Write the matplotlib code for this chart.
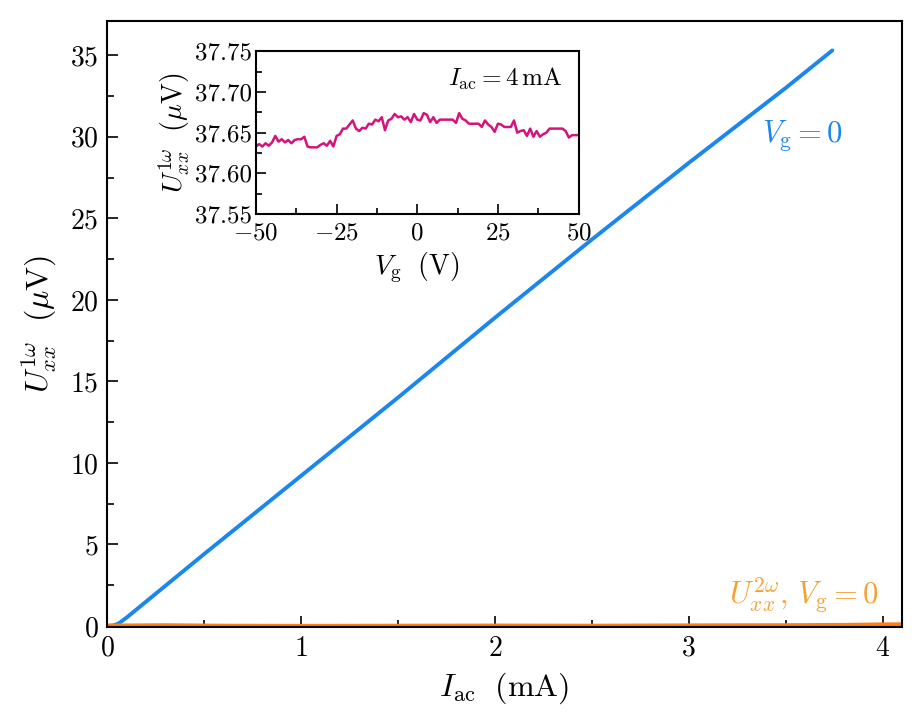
import numpy as np
import matplotlib
matplotlib.use('Agg')
import matplotlib.pyplot as plt
from matplotlib.ticker import MultipleLocator, FormatStrFormatter

plt.rcParams['font.family'] = 'serif'
plt.rcParams['font.serif'] = ['cmr10']
plt.rcParams['mathtext.fontset'] = 'cm'
plt.rcParams['axes.formatter.use_mathtext'] = True

# main panel: U_xx^1w vs I_ac (Vg = 0)
i_1w = [0.0, 0.03, 0.06, 0.1, 0.5, 1.0, 1.5, 2.0, 2.5, 3.0, 3.5, 3.74]
u_1w = [0.0, 0.02, 0.15, 0.5, 4.4, 9.2, 14.0, 18.9, 23.7, 28.4, 33.0, 35.3]

# second harmonic, nearly flat
i_2w = [0.0, 0.3, 0.6, 1.0, 1.5, 2.0, 2.5, 3.0, 3.5, 3.8, 4.0, 4.2]
u_2w = [0.02, 0.04, 0.01, 0.0, 0.01, 0.02, 0.01, 0.03, 0.04, 0.06, 0.09, 0.1]

# inset: U_xx^1w vs Vg at I_ac = 4 mA
vg = list(range(-50, 51))
u_vg = [37.633, 37.636, 37.633, 37.637, 37.634, 37.638, 37.646, 37.639, 37.642, 37.638,
        37.641, 37.637, 37.641, 37.642, 37.642, 37.645, 37.633, 37.632, 37.632, 37.632,
        37.635, 37.637, 37.634, 37.640, 37.633, 37.646, 37.648, 37.655, 37.655, 37.660,
        37.665, 37.655, 37.652, 37.656, 37.655, 37.661, 37.660, 37.666, 37.664, 37.669,
        37.653, 37.665, 37.667, 37.673, 37.669, 37.670, 37.666, 37.669, 37.663, 37.673,
        37.666, 37.665, 37.674, 37.672, 37.663, 37.669, 37.662, 37.666, 37.666, 37.666,
        37.666, 37.666, 37.662, 37.674, 37.667, 37.665, 37.661, 37.661, 37.661, 37.661,
        37.657, 37.665, 37.660, 37.657, 37.651, 37.661, 37.660, 37.657, 37.657, 37.657,
        37.665, 37.650, 37.652, 37.653, 37.646, 37.655, 37.645, 37.652, 37.645, 37.648,
        37.650, 37.655, 37.655, 37.655, 37.655, 37.655, 37.652, 37.644, 37.647, 37.647,
        37.647]

blue = '#1a86ee'
orange = '#ff7f0e'
orange_txt = '#f7a035'
magenta = '#d6127c'

fig = plt.figure(figsize=(9.14, 7.26), dpi=100)
ax = fig.add_axes([0.117, 0.136, 0.870, 0.835])

ax.plot(i_1w, u_1w, color=blue, lw=2.8, solid_capstyle='round')
ax.plot(i_2w, u_2w, color=orange, lw=3.0)

ax.set_xlim(0, 4.1)
ax.set_ylim(-0.08, 37.1)
ax.xaxis.set_major_locator(MultipleLocator(1))
ax.xaxis.set_minor_locator(MultipleLocator(0.5))
ax.yaxis.set_major_locator(MultipleLocator(5))
ax.yaxis.set_minor_locator(MultipleLocator(2.5))
ax.tick_params(which='both', direction='in', top=False, right=False, labelsize=20, width=1.2)
ax.tick_params(which='major', length=8, pad=6)
ax.tick_params(which='minor', length=5)
for s in ax.spines.values():
    s.set_linewidth(1.5)

ax.set_xlabel(r'$I_\mathrm{ac}\ \ (\mathrm{mA})$', fontsize=23, labelpad=6)
ax.set_ylabel(r'$U_{xx}^{1\omega}\ \ (\mu\mathrm{V})$', fontsize=23, labelpad=8)

ax.text(3.38, 30.1, r'$V_\mathrm{g}=0$', color=blue, fontsize=22, va='center', ha='left')
ax.text(3.98, 1.9, r'$U_{xx}^{2\omega},\,V_\mathrm{g}=0$', color=orange_txt, fontsize=22,
        va='center', ha='right')

# inset
axi = fig.add_axes([0.280, 0.705, 0.353, 0.2245])
axi.plot(vg, u_vg, color=magenta, lw=1.8)
axi.set_xlim(-50, 50)
axi.set_ylim(37.55, 37.75)
axi.xaxis.set_major_locator(MultipleLocator(25))
axi.xaxis.set_minor_locator(MultipleLocator(12.5))
axi.yaxis.set_major_locator(MultipleLocator(0.05))
axi.yaxis.set_minor_locator(MultipleLocator(0.025))
axi.yaxis.set_major_formatter(FormatStrFormatter('%.2f'))
axi.tick_params(which='both', direction='in', top=False, right=False, labelsize=18, width=1.2)
axi.tick_params(axis='x', pad=6)
axi.tick_params(axis='y', pad=3)
axi.tick_params(which='major', length=7)
axi.tick_params(which='minor', length=4)
for s in axi.spines.values():
    s.set_linewidth(1.5)
axi.set_xlabel(r'$V_\mathrm{g}\ \ (\mathrm{V})$', fontsize=20, labelpad=4)
axi.set_ylabel(r'$U_{xx}^{1\omega}\ \ (\mu\mathrm{V})$', fontsize=20, labelpad=2)
axi.text(0.95, 0.83, r'$I_\mathrm{ac}=4\,\mathrm{mA}$', transform=axi.transAxes,
         fontsize=18, ha='right', va='center')

fig.savefig('out.png', dpi=100)
